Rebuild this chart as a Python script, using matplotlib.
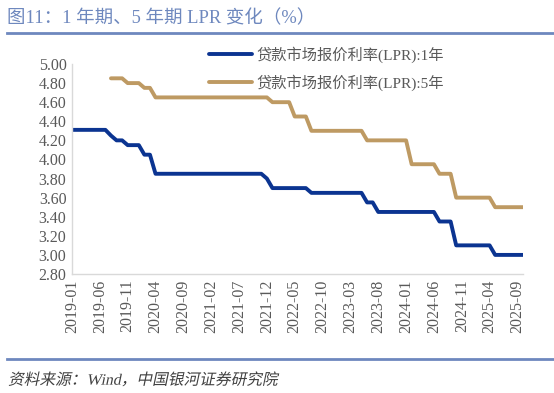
import matplotlib
matplotlib.use("Agg")
import matplotlib.pyplot as plt
import numpy as np
from matplotlib.font_manager import FontProperties
from matplotlib.textpath import TextPath
from matplotlib.patches import PathPatch
from matplotlib.transforms import Affine2D
from matplotlib.lines import Line2D

# monthly LPR, 2019-01 .. 2025-10
lpr_1y = [4.31, 4.31, 4.31, 4.31, 4.31, 4.31, 4.31, 4.25, 4.20, 4.20, 4.15, 4.15,
          4.15, 4.05, 4.05, 3.85, 3.85, 3.85, 3.85, 3.85, 3.85, 3.85, 3.85, 3.85,
          3.85, 3.85, 3.85, 3.85, 3.85, 3.85, 3.85, 3.85, 3.85, 3.85, 3.85, 3.80,
          3.70, 3.70, 3.70, 3.70, 3.70, 3.70, 3.70, 3.65, 3.65, 3.65, 3.65, 3.65,
          3.65, 3.65, 3.65, 3.65, 3.65, 3.55, 3.55, 3.45, 3.45, 3.45, 3.45, 3.45,
          3.45, 3.45, 3.45, 3.45, 3.45, 3.45, 3.35, 3.35, 3.35, 3.10, 3.10, 3.10,
          3.10, 3.10, 3.10, 3.10, 3.00, 3.00, 3.00, 3.00, 3.00, 3.00]
lpr_5y = [np.nan, np.nan, np.nan, np.nan, np.nan, np.nan, np.nan, 4.85, 4.85, 4.85, 4.80, 4.80,
          4.80, 4.75, 4.75, 4.65, 4.65, 4.65, 4.65, 4.65, 4.65, 4.65, 4.65, 4.65,
          4.65, 4.65, 4.65, 4.65, 4.65, 4.65, 4.65, 4.65, 4.65, 4.65, 4.65, 4.65,
          4.60, 4.60, 4.60, 4.60, 4.45, 4.45, 4.45, 4.30, 4.30, 4.30, 4.30, 4.30,
          4.30, 4.30, 4.30, 4.30, 4.30, 4.20, 4.20, 4.20, 4.20, 4.20, 4.20, 4.20,
          4.20, 3.95, 3.95, 3.95, 3.95, 3.95, 3.85, 3.85, 3.85, 3.60, 3.60, 3.60,
          3.60, 3.60, 3.60, 3.60, 3.50, 3.50, 3.50, 3.50, 3.50, 3.50]
tick_labels = ["2019-01", "2019-06", "2019-11", "2020-04", "2020-09", "2021-02",
               "2021-07", "2021-12", "2022-05", "2022-10", "2023-03", "2023-08",
               "2024-01", "2024-06", "2024-11", "2025-04", "2025-09"]
series_names = ["贷款市场报价利率(LPR):1年", "贷款市场报价利率(LPR):5年"]
y_ticks = [2.80, 3.00, 3.20, 3.40, 3.60, 3.80, 4.00, 4.20, 4.40, 4.60, 4.80, 5.00]

BLUE = "#0B3491"
GOLD = "#BE9A63"
ACCENT = "#6E88BE"
GREY = "#595959"
FAM = ["Liberation Serif", "Noto Sans CJK SC", "DejaVu Sans"]

fig = plt.figure(figsize=(5.54, 3.93), dpi=100)
ax = fig.add_axes([72 / 554, 1 - 274 / 393, (523 - 72) / 554, (274 - 64) / 393])

x = np.arange(len(lpr_1y))
ax.plot(x, lpr_1y, color=BLUE, lw=2.8, solid_capstyle="round", solid_joinstyle="round")
ax.plot(x, lpr_5y, color=GOLD, lw=2.8, solid_capstyle="round", solid_joinstyle="round")

ax.set_xlim(0, len(lpr_1y) - 1)
ax.set_ylim(2.8, 5.0)
ax.set_yticks(y_ticks)
ax.set_yticklabels([f"{v:.2f}" for v in y_ticks], family=FAM, fontsize=11.5, color=GREY)
ax.set_xticks(x[::5])
ax.set_xticklabels(tick_labels, rotation=90, family=FAM, fontsize=11.5, color=GREY)
ax.tick_params(length=0, pad=4)
for s in ["top", "right"]:
    ax.spines[s].set_visible(False)
for s in ["left", "bottom"]:
    ax.spines[s].set_color("#D9D9D9")
    ax.spines[s].set_linewidth(1.0)

handles = [Line2D([], [], color=BLUE, lw=2.8, solid_capstyle="round"),
           Line2D([], [], color=GOLD, lw=2.8, solid_capstyle="round")]
fig.legend(handles, series_names, loc="upper left", bbox_to_anchor=(209 / 554, 1 - 46 / 393),
           bbox_transform=fig.transFigure, frameon=False, borderpad=0, borderaxespad=0,
           handlelength=2.8, handletextpad=0.3, labelspacing=0.75,
           prop=FontProperties(family=FAM, size=11), labelcolor=GREY)

# title and rules
fig.text(7 / 554, 1 - 18 / 393, "图11：1 年期、5 年期 LPR 变化（%）", family=FAM,
         fontsize=13.3, color=ACCENT, va="center", ha="left")
fig.add_artist(Line2D([7 / 554, 1], [1 - 33 / 393, 1 - 33 / 393], color=ACCENT, lw=2.0,
                      transform=fig.transFigure))
fig.add_artist(Line2D([7 / 554, 1], [1 - 359 / 393, 1 - 359 / 393], color=ACCENT, lw=2.0,
                      transform=fig.transFigure))

# source note, slanted by hand (CJK fonts have no italic face)
src = "资料来源：Wind，中国银河证券研究院"
tp = TextPath((0, 0), src, size=11.3, prop=FontProperties(family=FAM))
scale = fig.dpi / 72
tr = Affine2D().scale(scale).skew_deg(12, 0).translate(8, 393 - 377 - 5.5 * scale)
fig.add_artist(PathPatch(tp, transform=tr, color="#404040", lw=0))

fig.savefig("out.png", dpi=100)
